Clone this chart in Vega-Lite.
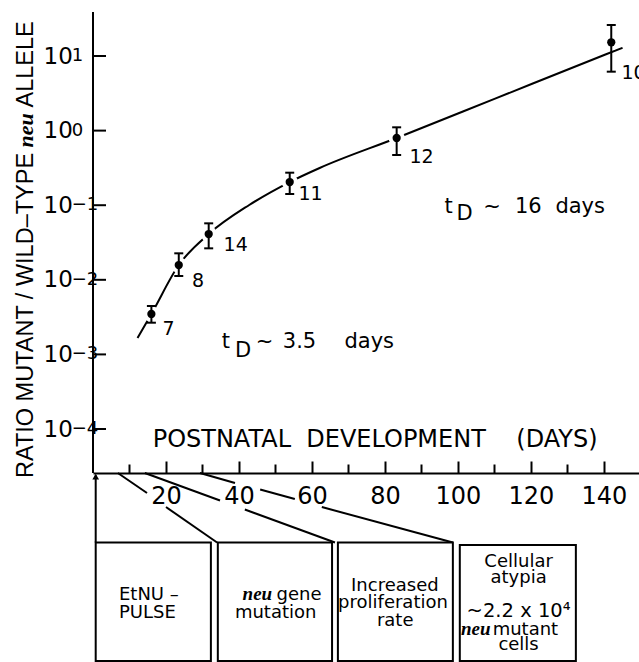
{
 "$schema": "https://vega.github.io/schema/vega-lite/v6.json",
 "width": 546,
 "height": 650,
 "autosize": "none",
 "padding": {"left": 93, "top": 12, "right": 0, "bottom": 0},
 "background": "white",
 "config": {
  "view": {"stroke": null},
  "font": "DejaVu Sans",
  "axis": {"grid": false, "domainColor": "black", "tickColor": "black", "labelColor": "black"}
 },
 "datasets": {
  "yaxis": [{"x": 0, "y": 2.570e-5, "y2": 38.9}],
  "yticks": [
   {"x": 1.78, "y": 10}, {"x": 1.78, "y": 1}, {"x": 1.78, "y": 0.1},
   {"x": 1.78, "y": 0.01}, {"x": 1.78, "y": 0.001}, {"x": 1.78, "y": 0.0001}
  ],
  "curve": [
   {"x": 12.2, "y": 0.00166}, {"x": 16.0, "y": 0.003483}, {"x": 23.5, "y": 0.01578},
   {"x": 31.7, "y": 0.04111}, {"x": 42.8, "y": 0.1007}, {"x": 53.9, "y": 0.2046},
   {"x": 62.1, "y": 0.3155}, {"x": 83.2, "y": 0.7962}, {"x": 110, "y": 2.661},
   {"x": 140.4, "y": 10.47}, {"x": 145.1, "y": 12.88}
  ],
  "points": [
   {"x": 16.0, "y": 0.003483}, {"x": 23.5, "y": 0.01578}, {"x": 31.7, "y": 0.04111},
   {"x": 53.9, "y": 0.2046}, {"x": 83.2, "y": 0.7962}, {"x": 142.0, "y": 15.28}
  ],
  "errs": [
   {"x": 16.0, "y": 0.002661, "y2": 0.004457}, {"x": 23.5, "y": 0.01125, "y2": 0.02265},
   {"x": 31.7, "y": 0.02642, "y2": 0.05715}, {"x": 53.9, "y": 0.1413, "y2": 0.2729},
   {"x": 83.2, "y": 0.4710, "y2": 1.107}, {"x": 142.0, "y": 6.166, "y2": 26.06}
  ],
  "caps": [
   {"x": 16.0, "y": 0.002661}, {"x": 16.0, "y": 0.004457},
   {"x": 23.5, "y": 0.01125}, {"x": 23.5, "y": 0.02265},
   {"x": 31.7, "y": 0.02642}, {"x": 31.7, "y": 0.05715},
   {"x": 53.9, "y": 0.1413}, {"x": 53.9, "y": 0.2729},
   {"x": 83.2, "y": 0.4710}, {"x": 83.2, "y": 1.107},
   {"x": 142.0, "y": 6.166}, {"x": 142.0, "y": 26.06}
  ],
  "plabels": [
   {"x": 20.7, "y": 0.002188, "t": "7"}, {"x": 28.8, "y": 0.009638, "t": "8"},
   {"x": 39.1, "y": 0.02924, "t": "14"}, {"x": 59.6, "y": 0.1413, "t": "11"},
   {"x": 90.0, "y": 0.4426, "t": "12"}
  ],
  "plabelsL": [{"x": 144.8, "y": 5.916, "t": "10"}],
  "yexp": [
   {"x": -5.84, "y": 8.57, "t": "1"}, {"x": -5.84, "y": 0.857, "t": "0"},
   {"x": -5.84, "y": 0.0857, "t": "−1"}, {"x": -5.84, "y": 0.00857, "t": "−2"},
   {"x": -5.84, "y": 0.000857, "t": "−3"}, {"x": -5.84, "y": 0.0000857, "t": "−4"}
  ],
  "ann": [
   {"x": 96.3, "y": 0.07852, "t": "t"}, {"x": 99.6, "y": 0.06339, "t": "D"},
   {"x": 106.9, "y": 0.07852, "t": "~"}, {"x": 115.6, "y": 0.07852, "t": "16"},
   {"x": 126.7, "y": 0.07852, "t": "days"},
   {"x": 35.3, "y": 0.001219, "t": "t"}, {"x": 38.9, "y": 0.0009226, "t": "D"},
   {"x": 44.6, "y": 0.001219, "t": "~"}, {"x": 52.0, "y": 0.001219, "t": "3.5"},
   {"x": 68.9, "y": 0.001219, "t": "days"}
  ],
  "xtitle": [{"x": 77.3, "y": 5.741e-5, "t": "POSTNATAL\u00a0 DEVELOPMENT\u00a0\u00a0\u00a0 (DAYS)"}],
  "ytitle": [
   {"x": -16.5, "y": 2.203e-5, "t": "RATIO MUTANT / WILD–TYPE"},
   {"x": -16.5, "y": 2.040, "t": "ALLELE"}
  ],
  "ytitleNeu": [{"x": -16.5, "y": 0.5935, "t": "neu"}],
  "conn": [
   {"seg": "a1", "x": 6.8, "y": 2.570e-5}, {"seg": "a1", "x": 14.8, "y": 1.387e-5},
   {"seg": "a2", "x": 20.0, "y": 8.995e-6}, {"seg": "a2", "x": 34.0, "y": 3.013e-6},
   {"seg": "b1", "x": 14.2, "y": 2.570e-5}, {"seg": "b1", "x": 34.8, "y": 1.102e-5},
   {"seg": "b2", "x": 41.6, "y": 8.337e-6}, {"seg": "b2", "x": 66.3, "y": 3.013e-6},
   {"seg": "c1", "x": 29.3, "y": 2.570e-5}, {"seg": "c1", "x": 38.9, "y": 1.888e-5},
   {"seg": "c2", "x": 45.8, "y": 1.545e-5}, {"seg": "c2", "x": 55.3, "y": 1.153e-5},
   {"seg": "c3", "x": 62.7, "y": 8.995e-6}, {"seg": "c3", "x": 98.6, "y": 3.013e-6}
  ],
  "boxes": [
   {"x": 0.74, "x2": 32.3, "y": 3.013e-6, "y2": 7.762e-8},
   {"x": 34.2, "x2": 65.5, "y": 3.013e-6, "y2": 7.762e-8},
   {"x": 67.1, "x2": 98.6, "y": 3.013e-6, "y2": 7.762e-8},
   {"x": 100.5, "x2": 132.3, "y": 2.786e-6, "y2": 7.762e-8}
  ],
  "arrow": [{"x": 0.74, "y": 3.013e-6, "y2": 2.399e-5}],
  "arrowhead": [{"x": 0.74, "y": 2.301e-5}],
  "boxc": [
   {"x": 15.3, "y": 5.105e-7, "t": "EtNU –"}, {"x": 14.9, "y": 2.931e-7, "t": "PULSE"},
   {"x": 50.05, "y": 2.931e-7, "t": "mutation"},
   {"x": 82.7, "y": 6.730e-7, "t": "Increased"}, {"x": 82.2, "y": 3.990e-7, "t": "proliferation"},
   {"x": 82.8, "y": 2.286e-7, "t": "rate"},
   {"x": 116.6, "y": 1.413e-6, "t": "Cellular"}, {"x": 116.6, "y": 8.630e-7, "t": "atypia"},
   {"x": 116.6, "y": 1.091e-7, "t": "cells"}
  ],
  "boxc2": [
   {"x": 116.6, "y": 3.020e-7, "t": "~2.2 x 10⁴"}
  ],
  "boxl": [
   {"x": 50.3, "y": 5.105e-7, "t": "gene"}, {"x": 109.5, "y": 1.734e-7, "t": "mutant"}
  ],
  "boxn": [
   {"x": 49.1, "y": 5.105e-7, "t": "neu"}, {"x": 108.9, "y": 1.734e-7, "t": "neu"}
  ]
 },
 "encoding": {
  "x": {"field": "x", "type": "quantitative", "scale": {"domain": [0, 149.6], "nice": false, "zero": false}, "axis": null},
  "y": {"field": "y", "type": "quantitative", "scale": {"type": "log", "domain": [7.53e-8, 38.9], "nice": false},
   "axis": {"orient": "left", "values": [0.0001, 0.001, 0.01, 0.1, 1, 10], "domain": false, "ticks": false,
    "labelFontSize": 23, "labelFont": "DejaVu Sans", "labelAlign": "left", "labelBaseline": "middle", "labelPadding": 50,
    "title": null, "labelOverlap": false, "labelFlush": false, "labelExpr": "'10'"}}
 },
 "layer": [
  {
   "data": {"name": "yaxis"},
   "mark": {"type": "rule", "strokeWidth": 2, "color": "black"},
   "encoding": {
    "x": {"field": "x", "type": "quantitative", "scale": {"domain": [0, 149.6], "nice": false, "zero": false},
     "axis": {"orient": "bottom", "offset": -189, "values": [20, 40, 60, 80, 100, 120, 140], "tickSize": -12, "tickWidth": 2,
      "domainWidth": 2, "labelFontSize": 24, "labelFont": "DejaVu Sans", "labelBaseline": "alphabetic", "labelPadding": 42,
      "title": null, "labelOverlap": false, "labelFlush": false}},
    "y2": {"field": "y2"}
   }
  },
  {
   "data": {"name": "yticks"},
   "mark": {"type": "tick", "orient": "horizontal", "size": 13, "thickness": 2, "color": "black", "opacity": 1}
  },
  {
   "data": {"name": "curve"},
   "mark": {"type": "line", "interpolate": "monotone", "strokeWidth": 2, "color": "black"},
   "encoding": {
    "x": {"field": "x", "type": "quantitative", "scale": {"domain": [0, 149.6], "nice": false, "zero": false},
     "axis": {"orient": "bottom", "offset": -189, "values": [10, 30, 50, 70, 90, 110, 130], "tickSize": -9, "tickWidth": 2,
      "labels": false, "domain": false, "title": null}}
   }
  },
  {
   "data": {"name": "conn"},
   "mark": {"type": "line", "strokeWidth": 2, "color": "black"},
   "encoding": {"detail": {"field": "seg"}}
  },
  {
   "data": {"name": "points"},
   "mark": {"type": "circle", "size": 260, "color": "white", "opacity": 1}
  },
  {
   "data": {"name": "errs"},
   "mark": {"type": "rule", "strokeWidth": 2, "color": "black"},
   "encoding": {"y2": {"field": "y2"}}
  },
  {
   "data": {"name": "caps"},
   "mark": {"type": "tick", "orient": "horizontal", "size": 9, "thickness": 2, "color": "black", "opacity": 1}
  },
  {
   "data": {"name": "points"},
   "mark": {"type": "circle", "size": 68, "color": "black", "opacity": 1}
  },
  {
   "data": {"name": "plabels"},
   "mark": {"type": "text", "fontSize": 19, "align": "center", "baseline": "middle", "color": "black"},
   "encoding": {"text": {"field": "t"}}
  },
  {
   "data": {"name": "plabelsL"},
   "mark": {"type": "text", "fontSize": 19, "align": "left", "baseline": "middle", "color": "black"},
   "encoding": {"text": {"field": "t"}}
  },
  {
   "data": {"name": "yexp"},
   "mark": {"type": "text", "fontSize": 18, "align": "left", "baseline": "alphabetic", "color": "black"},
   "encoding": {"text": {"field": "t"}}
  },
  {
   "data": {"name": "ann"},
   "mark": {"type": "text", "fontSize": 21, "align": "left", "baseline": "alphabetic", "color": "black"},
   "encoding": {"text": {"field": "t"}}
  },
  {
   "data": {"name": "xtitle"},
   "mark": {"type": "text", "fontSize": 24, "align": "center", "baseline": "alphabetic", "color": "black"},
   "encoding": {"text": {"field": "t"}}
  },
  {
   "data": {"name": "ytitle"},
   "mark": {"type": "text", "font": "Liberation Sans", "fontSize": 23.5, "angle": 270, "align": "left", "baseline": "alphabetic", "color": "black"},
   "encoding": {"text": {"field": "t"}}
  },
  {
   "data": {"name": "ytitleNeu"},
   "mark": {"type": "text", "font": "Liberation Serif", "fontSize": 22, "fontWeight": "bold", "fontStyle": "italic", "angle": 270, "align": "left", "baseline": "alphabetic", "color": "black"},
   "encoding": {"text": {"field": "t"}}
  },
  {
   "data": {"name": "boxes"},
   "mark": {"type": "rect", "fill": "white", "stroke": "black", "strokeWidth": 2},
   "encoding": {"x2": {"field": "x2"}, "y2": {"field": "y2"}}
  },
  {
   "data": {"name": "arrow"},
   "mark": {"type": "rule", "strokeWidth": 2, "color": "black"},
   "encoding": {"y2": {"field": "y2"}}
  },
  {
   "data": {"name": "arrowhead"},
   "mark": {"type": "point", "shape": "triangle-up", "size": 45, "filled": true, "color": "black", "opacity": 1}
  },
  {
   "data": {"name": "boxc"},
   "mark": {"type": "text", "fontSize": 18, "align": "center", "baseline": "alphabetic", "color": "black"},
   "encoding": {"text": {"field": "t"}}
  },
  {
   "data": {"name": "boxc2"},
   "mark": {"type": "text", "fontSize": 19.5, "align": "center", "baseline": "alphabetic", "color": "black"},
   "encoding": {"text": {"field": "t"}}
  },
  {
   "data": {"name": "boxl"},
   "mark": {"type": "text", "fontSize": 18, "align": "left", "baseline": "alphabetic", "color": "black"},
   "encoding": {"text": {"field": "t"}}
  },
  {
   "data": {"name": "boxn"},
   "mark": {"type": "text", "font": "Liberation Serif", "fontSize": 19, "fontWeight": "bold", "fontStyle": "italic", "align": "right", "baseline": "alphabetic", "color": "black"},
   "encoding": {"text": {"field": "t"}}
  }
 ],
 "resolve": {"axis": {"x": "independent"}}
}
